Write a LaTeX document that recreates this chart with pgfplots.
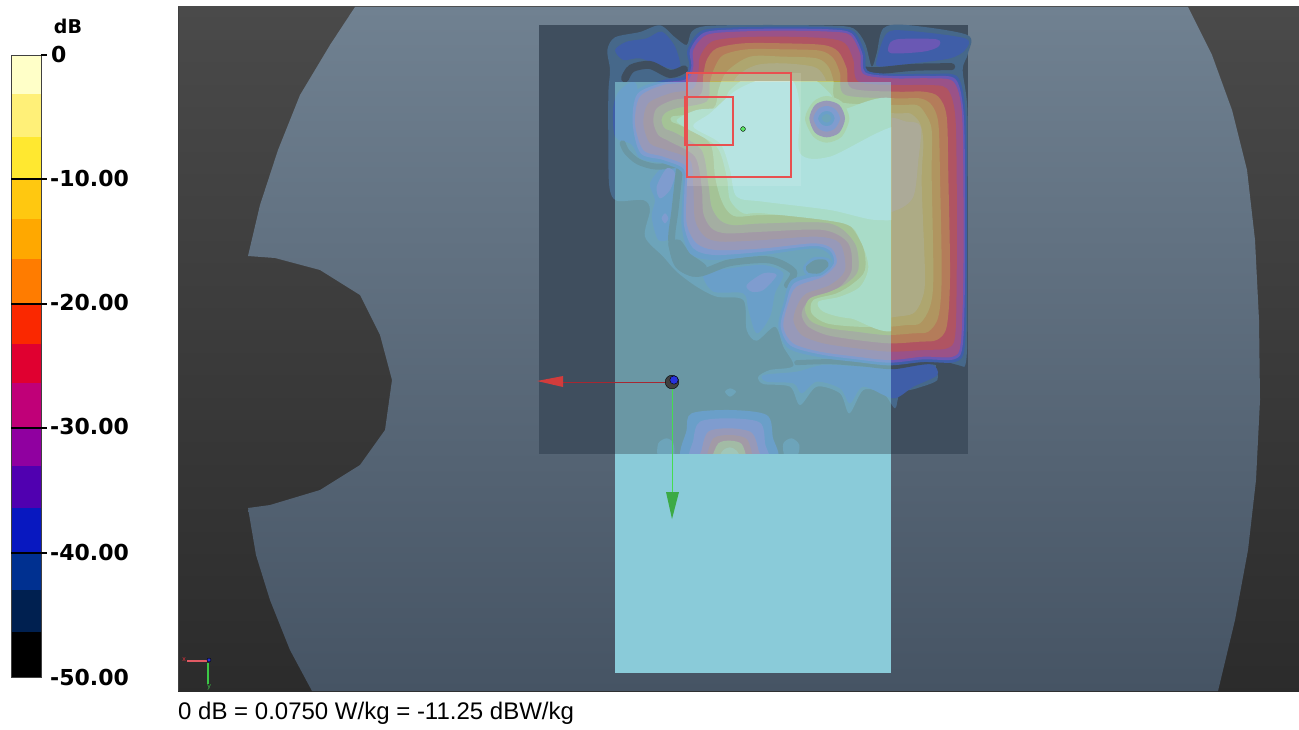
\documentclass[border=0pt]{standalone}
\usepackage{pgfplots}
\pgfplotsset{compat=1.18}
\usepackage{fontspec}
\setmainfont{Liberation Sans}
\newfontfamily\barfont{DejaVu Sans}[BoldFont={DejaVu Sans Bold}]
\pgfplotsset{px/.style={at={(0,0)},anchor=south west,scale only axis,width=1299bp,height=729bp,hide axis,
 xmin=0,xmax=1299,ymin=0,ymax=729,y dir=reverse,clip=true},
 zz/.style={at={(0,0)},anchor=south west,scale only axis,width=1299bp,height=729bp,hide axis,
 xmin=-1590,xmax=2307,ymin=-30,ymax=2157,y dir=reverse,clip=true},
 zp/.style={at={(615bp,275bp)},anchor=south west,scale only axis,width=276bp,height=372bp,hide axis,
 xmin=255,xmax=1083,ymin=216,ymax=1332,y dir=reverse,clip=true}}
\newcommand\lay[2]{\addplot[draw=none,fill=#1,forget plot,smooth cycle] coordinates {#2};}
\newcommand\band[2]{\addplot[draw=hole,line width=#1,forget plot,smooth,line cap=round] coordinates {#2};}
\newcommand\poly[2]{\addplot[draw=none,fill=#1,forget plot] coordinates {#2} -- cycle;}
\definecolor{hole}{HTML}{3F4E5E}
\definecolor{lz}{HTML}{46688A}
\definecolor{la}{HTML}{3F5EA8}
\definecolor{lb}{HTML}{6A58B4}
\definecolor{lc}{HTML}{9A5288}
\definecolor{ld}{HTML}{B05462}
\definecolor{le}{HTML}{B47C5A}
\definecolor{lf}{HTML}{B09560}
\definecolor{lg}{HTML}{AEA66F}
\definecolor{lh}{HTML}{ADAB85}
\definecolor{li}{HTML}{ACAA98}
\definecolor{sa}{HTML}{B5A541}
\definecolor{sb}{HTML}{BFC773}
\definecolor{sc}{HTML}{BFD7A5}
\definecolor{sd}{HTML}{C9E3D1}
\definecolor{pale}{HTML}{95E1EB}
\begin{document}
\begin{tikzpicture}
% ---------- background, head, scan area (image pixels)
\begin{axis}[px]
\poly{white}{(0,0)(1299,0)(1299,729)(0,729)}
\addplot[draw=none,top color=black!71,bottom color=black!83,forget plot] coordinates {(178,7)(1299,7)(1299,691)(178,691)} -- cycle;
\addplot[draw=none,top color={rgb,255:red,112;green,129;blue,145},bottom color={rgb,255:red,70;green,84;blue,100},forget plot] coordinates {(355,7)(1188,7)(1212,55)(1232,110)(1247,170)(1255,240)(1259,320)(1260,400)(1256,480)(1248,550)(1235,620)(1218,691)(312,691)(290,650)(270,600)(256,555)(248,508)(270,505)(320,490)(360,465)(385,430)(392,380)(380,335)(360,295)(320,270)(275,258)(248,256)(260,205)(278,150)(300,95)(330,45)} -- cycle;
\addplot[draw=black!75,line width=0.8pt,forget plot] coordinates {(178,7)(178,691)};
\poly{hole}{(539,25)(968,25)(968,454)(539,454)}
\end{axis}
% ---------- field contours (3x crop pixels)
\begin{axis}[zz]
\lay{lz}{(232,120)(255,82)(330,66)(390,46)(435,82)(470,105)(485,65)(530,48)(700,45)(900,47)(970,55)(1005,100)(1025,170)(1040,130)(1060,55)(1130,45)(1312,75)(1314,130)(1298,180)(1312,300)(1312,600)(1312,900)(1306,1065)(1260,1072)(1218,1065)(1222,1110)(1160,1135)(1110,1150)(1095,1195)(1060,1150)(1000,1140)(958,1210)(930,1150)(860,1130)(810,1185)(780,1130)(700,1122)(685,1100)(720,1080)(790,1068)(760,1010)(735,950)(680,992)(650,960)(640,870)(560,860)(500,830)(440,785)(400,740)(345,680)(360,600)(340,570)(260,572)(238,530)(235,400)(235,250)(240,180)}
\lay{lz}{(385,1300)(410,1285)(430,1300)(430,1340)(385,1340)}
\lay{lz}{(760,1300)(785,1285)(808,1305)(800,1340)(765,1340)}
\lay{lz}{(585,1145)(600,1135)(618,1145)(600,1160)}
\lay{la}{(255,120)(290,95)(350,85)(395,65)(435,110)(450,175)(400,170)(330,145)(280,150)}
\lay{la}{(1040,150)(1070,70)(1130,62)(1305,85)(1305,120)(1260,145)(1150,160)(1050,170)}
\lay{la}{(360,520)(400,470)(440,475)(445,600)(425,680)(385,690)(365,620)(375,570)}
\lay{la}{(520,790)(600,775)(700,765)(760,790)(735,850)(720,920)(680,970)(655,900)(640,850)(550,845)}
\lay{la}{(700,1095)(800,1085)(880,1065)(1000,1070)(1090,1075)(1200,1062)(1222,1095)(1150,1130)(1090,1165)(1000,1130)(960,1180)(930,1135)(860,1115)(815,1150)(790,1120)(710,1115)}
\lay{la}{(250,290)(270,240)(320,225)(330,420)(300,400)(255,380)}
\band{8bp}{(285,205)(305,175)(360,165)(420,192)(462,178)}
\band{6bp}{(460,462)(380,470)(325,455)(290,425)(278,400)}
\band{7bp}{(448,480)(435,600)(425,690)(445,765)(505,790)(600,758)(720,750)(790,785)(772,825)}
\band{7bp}{(1005,180)(1045,182)(1150,172)(1265,170)}
\band{5bp}{(800,1058)(900,1055)(1000,1062)(1090,1070)(1200,1055)(1300,1078)}
\lay{hole}{(415,700)(450,690)(480,730)(530,770)(490,800)(440,770)}
% main lobe
\lay{la}{(472,120)(515,62)(620,52)(760,50)(900,52)(972,65)(1005,130)(1012,182)(1090,192)(1200,192)(1282,200)(1306,300)(1310,500)(1310,800)(1304,1012)(1275,1056)(1180,1056)(1080,1066)(980,1056)(870,1042)(775,1015)(745,950)(760,880)(785,810)(870,785)(905,760)(895,730)(850,715)(700,735)(550,750)(480,730)(455,650)(458,540)(455,485)(400,460)(325,440)(302,340)(315,245)(400,210)(462,200)(478,165)}
\lay{lb}{(480,120)(522,68)(620,58)(760,56)(900,58)(965,70)(997,130)(1006,187)(1090,198)(1200,198)(1276,207)(1300,300)(1305,500)(1305,800)(1298,1006)(1272,1048)(1180,1048)(1080,1058)(980,1048)(870,1033)(782,1007)(752,950)(768,880)(792,820)(875,792)(912,760)(900,722)(850,708)(700,725)(555,735)(490,715)(462,645)(463,540)(462,478)(400,450)(332,430)(308,340)(322,252)(400,218)(466,208)(484,168)}
\lay{lc}{(490,120)(530,75)(620,65)(760,62)(900,65)(960,75)(990,130)(1000,192)(1090,205)(1200,205)(1270,215)(1295,300)(1300,500)(1300,800)(1292,1000)(1268,1040)(1180,1040)(1080,1050)(980,1040)(870,1025)(790,1000)(760,950)(775,880)(800,830)(880,800)(920,760)(905,715)(850,700)(700,715)(560,720)(500,700)(470,640)(470,540)(470,470)(400,440)(340,420)(315,340)(330,260)(400,225)(470,215)(490,170)}
\lay{ld}{(510,140)(545,95)(630,82)(760,80)(890,85)(945,100)(970,150)(985,215)(1100,225)(1190,225)(1250,235)(1275,310)(1280,500)(1280,800)(1275,980)(1250,1015)(1180,1020)(1080,1025)(980,1015)(880,1000)(815,975)(790,930)(805,880)(830,850)(900,825)(945,780)(930,700)(860,680)(700,690)(575,695)(525,680)(495,630)(490,530)(480,450)(410,420)(360,400)(340,340)(355,280)(420,250)(490,235)(505,185)}
\lay{le}{(530,150)(560,115)(640,100)(760,100)(880,105)(925,125)(950,175)(965,235)(1100,245)(1180,245)(1225,260)(1250,320)(1255,500)(1260,800)(1250,950)(1220,990)(1170,995)(1080,1000)(980,990)(890,975)(835,950)(815,915)(830,880)(880,855)(930,830)(965,780)(955,700)(880,660)(700,665)(590,670)(545,655)(520,610)(515,530)(495,440)(420,395)(385,375)(370,335)(380,295)(430,270)(510,255)(520,195)}
\lay{lf}{(555,170)(580,135)(650,118)(760,118)(870,122)(910,145)(930,190)(945,255)(1100,265)(1170,265)(1205,285)(1225,340)(1230,500)(1235,800)(1225,920)(1195,965)(1150,970)(1070,975)(980,965)(900,950)(850,930)(838,905)(855,885)(900,870)(950,850)(985,790)(975,700)(900,640)(700,640)(610,645)(570,630)(545,590)(535,520)(515,420)(440,370)(405,355)(395,330)(405,310)(440,295)(530,275)(540,215)}
\lay{lg}{(590,185)(660,140)(760,140)(860,145)(895,170)(910,210)(925,275)(1100,285)(1160,285)(1185,310)(1205,360)(1205,500)(1210,800)(1200,890)(1170,940)(1130,945)(1070,950)(980,940)(910,925)(865,905)(880,895)(920,885)(970,865)(1005,800)(995,700)(920,620)(700,615)(620,620)(590,600)(570,560)(555,500)(540,400)(460,350)(425,335)(425,320)(460,315)(550,295)(565,240)}
\lay{lh}{(620,200)(680,165)(760,160)(850,170)(880,195)(895,235)(905,300)(1100,310)(1140,310)(1170,340)(1180,400)(1175,520)(1185,800)(1175,870)(1150,910)(1100,920)(1050,925)(980,910)(920,900)(900,890)(950,880)(990,860)(1030,800)(1020,700)(940,610)(700,590)(640,595)(610,575)(595,530)(580,480)(565,400)(490,345)(470,330)(500,325)(570,315)(590,270)}
\lay{li}{(1060,340)(1130,335)(1172,350)(1165,450)(1150,560)(1100,600)(1050,590)}
% violet spots
\lay{lb}{(1075,110)(1100,88)(1220,88)(1225,110)(1180,125)(1085,130)}
\lay{lb}{(380,530)(410,475)(435,490)(420,540)(390,565)}
\lay{lb}{(395,625)(405,610)(415,625)(405,640)}
\lay{lb}{(650,825)(700,790)(740,795)(700,840)(665,845)}
% small minimum at the waist
\lay{la}{(820,770)(850,742)(895,745)(905,770)(870,798)(830,795)}
\lay{hole}{(828,770)(855,750)(888,750)(895,768)(868,790)(835,788)}
% lower lobe
\lay{la}{(470,1260)(485,1210)(600,1200)(710,1215)(728,1280)(730,1360)(465,1360)}
\lay{lb}{(490,1290)(510,1235)(600,1225)(690,1238)(705,1300)(705,1360)(490,1360)}
\lay{lc}{(515,1320)(535,1265)(600,1255)(665,1268)(685,1320)(685,1360)(515,1360)}
\lay{ld}{(530,1340)(550,1285)(600,1275)(650,1287)(668,1340)(668,1360)(530,1360)}
\lay{lf}{(545,1345)(565,1300)(600,1292)(635,1302)(650,1345)(650,1360)(545,1360)}
\lay{lh}{(565,1345)(580,1320)(600,1312)(620,1322)(632,1345)(632,1360)(565,1360)}
\end{axis}
% ---------- upper levels as they read under the phantom (3x crop pixels, clipped to it)
\begin{axis}[zp]
\lay{sa}{(555,170)(580,135)(650,118)(760,118)(870,122)(910,145)(930,190)(945,255)(1100,265)(1170,265)(1205,285)(1225,340)(1230,500)(1235,800)(1225,920)(1195,965)(1150,970)(1070,975)(980,965)(900,955)(845,935)(825,900)(840,865)(900,845)(950,820)(985,780)(975,700)(900,640)(700,640)(610,645)(570,630)(545,590)(535,520)(515,420)(440,370)(405,355)(395,330)(405,310)(440,295)(530,275)(540,215)}
\lay{sb}{(590,185)(660,140)(760,140)(860,145)(895,170)(910,210)(925,275)(1100,285)(1160,285)(1185,310)(1205,360)(1205,500)(1210,800)(1200,890)(1170,940)(1130,945)(1070,950)(980,950)(890,940)(845,910)(850,870)(920,850)(970,820)(1005,780)(995,700)(920,620)(700,615)(620,620)(590,600)(570,560)(555,500)(540,400)(460,350)(425,335)(425,320)(460,315)(550,295)(565,240)}
\lay{sc}{(600,240)(700,170)(800,170)(900,250)(925,300)(1120,300)(1120,925)(960,925)(880,905)(865,875)(930,860)(990,830)(1015,770)(990,690)(940,640)(700,610)(640,610)(600,570)(590,500)(560,410)(470,355)(440,330)(500,300)(580,290)}
\lay{sd}{(540,310)(620,240)(720,200)(790,215)(810,300)(810,430)(900,440)(1120,350)(1120,600)(1040,630)(900,600)(700,575)(620,560)(600,480)(570,400)(490,350)}
% ring around the local minimum
\lay{sb}{(825,325)(850,275)(890,258)(935,275)(958,325)(935,380)(890,398)(850,380)}
\lay{lc}{(838,325)(855,285)(890,272)(928,285)(945,325)(928,368)(890,382)(855,368)}
\lay{lb}{(850,325)(865,297)(890,288)(915,297)(930,325)(915,355)(890,365)(865,355)}
\lay{la}{(864,325)(875,308)(890,303)(905,308)(914,325)(905,343)(890,348)(875,343)}
\lay{lz}{(875,325)(882,315)(890,312)(898,315)(903,325)(898,335)(890,338)(882,335)}
\end{axis}
% ---------- overlays and annotations (image pixels)
\begin{axis}[px]
\addplot[draw=none,fill=pale,fill opacity=0.5,forget plot] coordinates {(615,82)(891,82)(891,454)(615,454)} -- cycle;
\poly{{rgb,255:red,138;green,203;blue,217}}{(615,454)(891,454)(891,673)(615,673)}
\addplot[draw=none,fill=white,fill opacity=0.12,forget plot] coordinates {(687,73)(801,73)(801,186)(687,186)} -- cycle;
\addplot[draw={rgb,255:red,232;green,80;blue,80},line width=1.2pt,forget plot] coordinates {(687,73)(791,73)(791,177)(687,177)} -- cycle;
\addplot[draw={rgb,255:red,232;green,80;blue,80},line width=1.2pt,forget plot] coordinates {(685,97)(733,97)(733,145)(685,145)} -- cycle;
\addplot[only marks,mark=*,mark size=2.4bp,mark options={draw=none,fill={rgb,255:red,90;green,230;blue,100}},forget plot] coordinates {(743,129)};
% axes
\addplot[draw={rgb,255:red,165;green,40;blue,50},line width=1pt,forget plot] coordinates {(560,382)(668,382)};
\addplot[draw=none,fill={rgb,255:red,210;green,60;blue,60},forget plot] coordinates {(537,381)(563,376)(563,387)} -- cycle;
\addplot[draw={rgb,255:red,70;green,220;blue,80},line width=0.8pt,forget plot] coordinates {(672,388)(672,495)};
\addplot[draw=none,fill={rgb,255:red,60;green,170;blue,70},forget plot] coordinates {(666,492)(679,492)(672,519)} -- cycle;
\addplot[only marks,mark=*,mark size=6.8bp,mark options={draw=none,fill=black!75},forget plot] coordinates {(672,382)};
\addplot[only marks,mark=*,mark size=4.2bp,mark options={draw=none,fill={rgb,255:red,40;green,50;blue,220}},forget plot] coordinates {(674,380)};
% mini triad
\addplot[draw={rgb,255:red,225;green,90;blue,100},line width=1.6pt,forget plot] coordinates {(187,661)(207,661)};
\addplot[draw={rgb,255:red,60;green,200;blue,70},line width=1.8pt,forget plot] coordinates {(208,663)(208,684)};
\addplot[only marks,mark=*,mark size=2bp,mark options={draw=none,fill={rgb,255:red,40;green,50;blue,210}},forget plot] coordinates {(209,660)};
\node[text={rgb,255:red,225;green,50;blue,60},inner sep=0pt,font=\fontsize{7bp}{7bp}\selectfont] at (axis cs:184,660) {x};
\node[text={rgb,255:red,60;green,200;blue,70},inner sep=0pt,font=\fontsize{7bp}{7bp}\selectfont] at (axis cs:209,687) {y};
% colour scale
\poly{{rgb,255:red,255;green,255;blue,200}}{(11,55)(41,55)(41,94)(11,94)}
\poly{{rgb,255:red,255;green,240;blue,120}}{(11,94)(41,94)(41,136.5)(11,136.5)}
\poly{{rgb,255:red,255;green,232;blue,48}}{(11,136.5)(41,136.5)(41,179)(11,179)}
\poly{{rgb,255:red,255;green,200;blue,16}}{(11,179)(41,179)(41,219)(11,219)}
\poly{{rgb,255:red,255;green,168;blue,0}}{(11,219)(41,219)(41,259)(11,259)}
\poly{{rgb,255:red,255;green,124;blue,0}}{(11,259)(41,259)(41,304)(11,304)}
\poly{{rgb,255:red,250;green,40;blue,0}}{(11,304)(41,304)(41,344)(11,344)}
\poly{{rgb,255:red,224;green,0;blue,48}}{(11,344)(41,344)(41,383)(11,383)}
\poly{{rgb,255:red,192;green,0;blue,120}}{(11,383)(41,383)(41,428)(11,428)}
\poly{{rgb,255:red,144;green,0;blue,160}}{(11,428)(41,428)(41,466)(11,466)}
\poly{{rgb,255:red,80;green,0;blue,176}}{(11,466)(41,466)(41,508)(11,508)}
\poly{{rgb,255:red,8;green,24;blue,192}}{(11,508)(41,508)(41,553)(11,553)}
\poly{{rgb,255:red,0;green,48;blue,144}}{(11,553)(41,553)(41,590)(11,590)}
\poly{{rgb,255:red,0;green,32;blue,80}}{(11,590)(41,590)(41,632)(11,632)}
\poly{black}{(11,632)(41,632)(41,677)(11,677)}
\addplot[draw=black!75,line width=1pt,forget plot] coordinates {(11,55)(41,55)(41,677)(11,677)} -- cycle;
\addplot[draw=black,line width=1.1pt,forget plot] coordinates {(11,179)(47,179)};
\addplot[draw=black,line width=1.1pt,forget plot] coordinates {(11,304)(47,304)};
\addplot[draw=black,line width=1.1pt,forget plot] coordinates {(11,428)(47,428)};
\addplot[draw=black,line width=1.1pt,forget plot] coordinates {(11,553)(47,553)};
\addplot[draw=black,line width=1.1pt,forget plot] coordinates {(41,55)(47,55)};
\node[anchor=center,font=\barfont\bfseries\fontsize{19bp}{20bp}\selectfont] at (axis cs:68,26) {dB};
\node[anchor=west,inner sep=0pt,font=\barfont\bfseries\fontsize{22bp}{23bp}\selectfont] at (axis cs:51,54) {0};
\node[anchor=west,inner sep=0pt,font=\barfont\bfseries\fontsize{22bp}{23bp}\selectfont] at (axis cs:50,178) {-10.00};
\node[anchor=west,inner sep=0pt,font=\barfont\bfseries\fontsize{22bp}{23bp}\selectfont] at (axis cs:50,302) {-20.00};
\node[anchor=west,inner sep=0pt,font=\barfont\bfseries\fontsize{22bp}{23bp}\selectfont] at (axis cs:50,426) {-30.00};
\node[anchor=west,inner sep=0pt,font=\barfont\bfseries\fontsize{22bp}{23bp}\selectfont] at (axis cs:50,552) {-40.00};
\node[anchor=west,inner sep=0pt,font=\barfont\bfseries\fontsize{22bp}{23bp}\selectfont] at (axis cs:50,677) {-50.00};
\node[anchor=west,inner sep=0pt,font=\fontsize{24bp}{26bp}\selectfont] at (axis cs:178,713) {0 dB = 0.0750 W/kg = -11.25 dBW/kg};
\end{axis}
\end{tikzpicture}
\end{document}
